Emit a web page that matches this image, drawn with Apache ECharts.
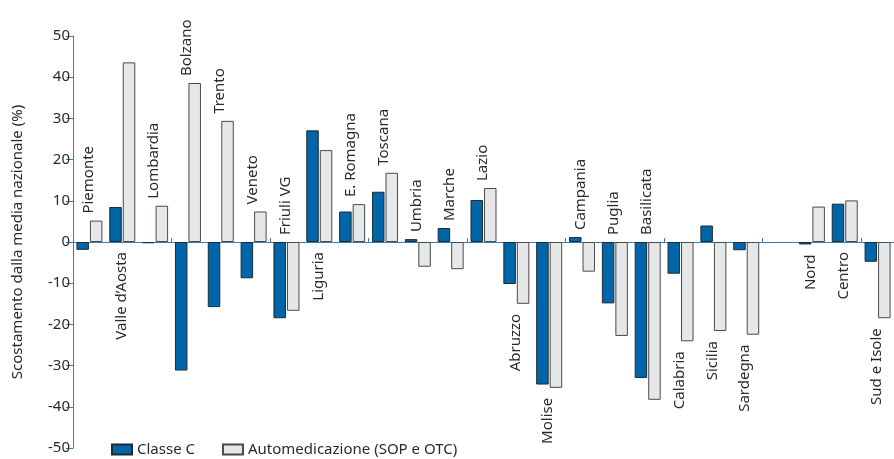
<!DOCTYPE html>
<html>
<head>
<meta charset="utf-8">
<script src="https://cdn.jsdelivr.net/npm/echarts@6/dist/echarts.min.js"></script>
<style>
  html, body { margin: 0; padding: 0; background: #fff; overflow: hidden; }
  #chart { width: 894px; height: 459px; }
</style>
</head>
<body>
<div id="chart"></div>
<script>
// regioni (la colonna vuota separa le macro-aree)
const regions = [
  'Piemonte', 'Valle d\u2019Aosta', 'Lombardia', 'Bolzano', 'Trento', 'Veneto', 'Friuli VG',
  'Liguria', 'E. Romagna', 'Toscana', 'Umbria', 'Marche', 'Lazio', 'Abruzzo', 'Molise',
  'Campania', 'Puglia', 'Basilicata', 'Calabria', 'Sicilia', 'Sardegna', '',
  'Nord', 'Centro', 'Sud e Isole',
];

// scostamento dalla media nazionale (%)
const classeC = [
  -1.9, 8.5, -0.3, -31.2, -15.8, -8.8, -18.5,
  27.1, 7.4, 12.2, 0.7, 3.4, 10.2, -10.2, -34.6,
  1.2, -14.9, -33.0, -7.7, 4.0, -2.0, '-',
  -0.6, 9.3, -4.8,
];
const automedicazione = [
  5.2, 43.6, 8.8, 38.6, 29.4, 7.4, -16.7,
  22.3, 9.2, 16.8, -6.0, -6.6, 13.1, -15.0, -35.4,
  -7.2, -22.8, -38.3, -24.1, -21.6, -22.5, '-',
  8.6, 10.1, -18.5,
];

// etichetta sopra (up) o sotto (down) le barre
const labelSide = [
  'up', 'down', 'up', 'up', 'up', 'up', 'up',
  'down', 'up', 'up', 'up', 'up', 'up', 'down', 'down',
  'up', 'up', 'up', 'down', 'down', 'down', null,
  'down', 'down', 'down',
];

const yTicks = [-50, 50, 10];

const FONT = '"Noto Sans", "DejaVu Sans", sans-serif';
const AXIS_BLUE = '#2f7fc1';
const TEXT = '#2a2a2a';

// punto d'appoggio dell'etichetta: estremo delle barre dal lato scelto
const labelData = regions.map((name, i) => {
  if (!labelSide[i]) return [i, 0];
  const vals = [0, classeC[i], automedicazione[i]].filter((v) => typeof v === 'number');
  return [i, labelSide[i] === 'up' ? Math.max(...vals) : Math.min(...vals)];
});

const chart = echarts.init(document.getElementById('chart'));

chart.setOption({
  animation: false,
  textStyle: {fontFamily: FONT, color: TEXT},
  grid: {left: 73, right: -2, top: 36, bottom: 11, containLabel: false},
  legend: {
    left: 106,
    top: 437,
    icon: 'rect',
    itemWidth: 20,
    itemHeight: 10,
    itemGap: 27,
    textStyle: {fontFamily: FONT, fontSize: 15, color: TEXT},
    data: ['Classe C', 'Automedicazione (SOP e OTC)'],
  },
  xAxis: {
    type: 'category',
    data: regions,
    boundaryGap: true,
    axisLine: {onZero: true, lineStyle: {color: AXIS_BLUE, width: 1}},
    axisTick: {show: true, inside: true, length: 4, lineStyle: {color: AXIS_BLUE}},
    axisLabel: {show: false},
    splitLine: {show: false},
  },
  yAxis: {
    type: 'value',
    min: yTicks[0],
    max: yTicks[1],
    interval: yTicks[2],
    name: 'Scostamento dalla media nazionale (%)',
    nameLocation: 'middle',
    nameGap: 48,
    nameTextStyle: {fontFamily: FONT, fontSize: 15, color: TEXT},
    axisLine: {show: true, lineStyle: {color: AXIS_BLUE, width: 1}},
    axisTick: {show: true, length: 7, lineStyle: {color: AXIS_BLUE}},
    axisLabel: {fontFamily: FONT, fontSize: 15, color: TEXT, margin: 3},
    splitLine: {show: false},
  },
  series: [
    {
      name: 'Classe C',
      type: 'bar',
      data: classeC,
      barWidth: 12.5,
      barGap: '8%',
      itemStyle: {color: '#0066a8', borderColor: '#1d2a36', borderWidth: 1},
    },
    {
      name: 'Automedicazione (SOP e OTC)',
      type: 'bar',
      data: automedicazione,
      barWidth: 12.5,
      itemStyle: {color: '#e6e7e9', borderColor: '#4a4a4a', borderWidth: 1},
    },
    {
      type: 'custom',
      silent: true,
      data: labelData,
      renderItem: (params, api) => {
        const i = params.dataIndex;
        const side = labelSide[i];
        if (!side) return null;
        const pt = api.coord([api.value(0), api.value(1)]);
        const up = side === 'up';
        return {
          type: 'text',
          x: pt[0] - 1,
          y: pt[1] + (up ? -7 : 10),
          rotation: Math.PI / 2,
          style: {
            text: regions[i],
            fontFamily: FONT,
            fontSize: 15,
            fill: TEXT,
            align: up ? 'left' : 'right',
            verticalAlign: 'middle',
          },
        };
      },
    },
  ],
});

window.addEventListener('resize', chart.resize);
</script>
</body>
</html>
